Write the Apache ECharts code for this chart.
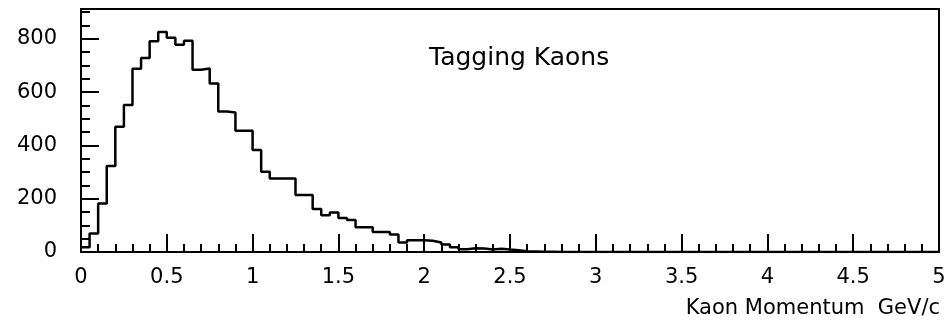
<!DOCTYPE html>
<html>
<head>
<meta charset="utf-8">
<script src="https://cdn.jsdelivr.net/npm/echarts@6/dist/echarts.min.js"></script>
<style>
html,body{margin:0;padding:0;background:#fff;}
#chart{width:949px;height:324px;}
</style>
</head>
<body>
<div id="chart"></div>
<script>
// Histogram of tagging kaon momentum, 100 bins of 0.05 GeV/c from 0 to 5
const binWidth = 0.05;
const counts = [
  18, 69, 182, 323, 470, 552, 688, 728, 791, 826,
  804, 778, 793, 684, 689, 632, 527, 524, 455, 455,
  383, 301, 276, 276, 276, 214, 214, 161, 138, 148,
  128, 120, 93, 93, 75, 75, 66, 36, 44, 44,
  42, 36, 28, 18, 10, 14, 13, 9, 12, 9,
  7, 3, 2, 1, 1, 0, 0, 0, 0, 0,
  0, 0, 0, 0, 0, 0, 0, 0, 0, 0,
  0, 0, 0, 0, 0, 0, 0, 0, 0, 0,
  0, 0, 0, 0, 0, 0, 0, 0, 0, 0,
  0, 0, 0, 0, 0, 0, 0, 0, 0, 0
];
const xTicks = [0, 0.5, 1, 1.5, 2, 2.5, 3, 3.5, 4, 4.5, 5];
const yTicks = [0, 200, 400, 600, 800];
const titleText = 'Tagging Kaons';
const xTitle = 'Kaon Momentum  GeV/c';

const xMin = xTicks[0], xMax = xTicks[xTicks.length - 1];
const yMax = 912;

const points = counts.map((c, i) => [i * binWidth, c]);
points.push([xMax, counts[counts.length - 1]]);

const FONT = 'DejaVu Sans';
const chart = echarts.init(document.getElementById('chart'), null, {renderer: 'canvas'});
chart.setOption({
  animation: false,
  backgroundColor: '#fff',
  title: {
    text: titleText,
    left: 424, top: 41,
    textStyle: {fontFamily: FONT, fontSize: 25, fontWeight: 'normal', color: '#000'}
  },
  grid: {
    left: 81, right: 10, top: 9, bottom: 72,
    show: true, borderColor: '#000', borderWidth: 2, backgroundColor: 'transparent'
  },
  xAxis: {
    type: 'value', min: xMin, max: xMax, interval: 0.5,
    axisLine: {show: true, lineStyle: {color: '#000', width: 2}},
    axisTick: {show: true, inside: true, length: 18, lineStyle: {color: '#000', width: 2}},
    minorTick: {show: true, splitNumber: 5, length: 8, lineStyle: {color: '#000', width: 2}},
    splitLine: {show: false},
    minorSplitLine: {show: false},
    axisLabel: {
      fontFamily: FONT, fontSize: 21, color: '#000', margin: 15,
      formatter: v => (xTicks.indexOf(v) >= 0 ? String(v) : '')
    }
  },
  yAxis: [{
    type: 'value', min: 0, max: yMax, interval: 200, position: 'left',
    axisLine: {show: true, lineStyle: {color: '#000', width: 2}},
    axisTick: {show: true, inside: true, length: 18, lineStyle: {color: '#000', width: 2}},
    splitLine: {show: false},
    axisLabel: {
      fontFamily: FONT, fontSize: 21, color: '#000', margin: 24,
      formatter: v => (yTicks.indexOf(v) >= 0 ? String(v) : '')
    }
  }, {
    type: 'value', min: 0, max: yMax, interval: 50, position: 'left', offset: 0,
    axisLine: {show: false},
    axisTick: {show: true, inside: true, length: 9, lineStyle: {color: '#000', width: 2}},
    splitLine: {show: false},
    axisLabel: {show: false}
  }],
  graphic: [{
    type: 'text', right: 9, top: 298,
    style: {text: xTitle, font: '21px "DejaVu Sans"', fill: '#000'}
  }],
  series: [{
    type: 'line', step: 'end', data: points, yAxisIndex: 0,
    showSymbol: false, symbol: 'none', smooth: false,
    lineStyle: {color: '#000', width: 2.5},
    silent: true
  }]
});
</script>
</body>
</html>
